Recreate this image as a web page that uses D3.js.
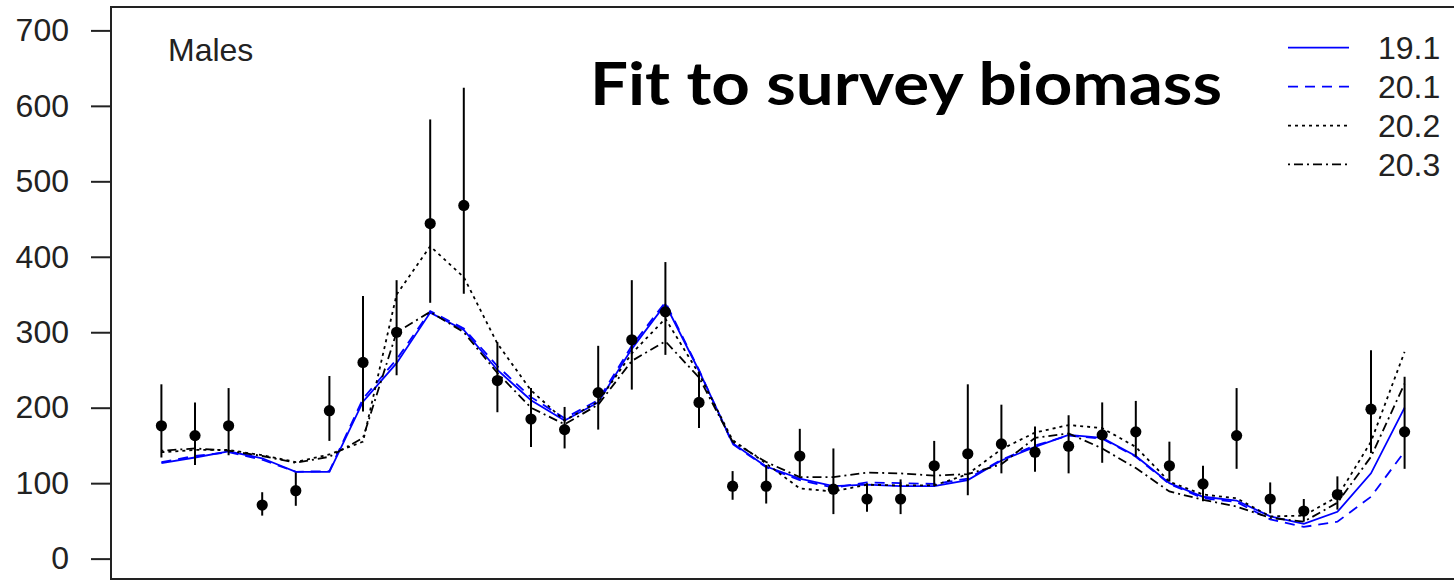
<!DOCTYPE html>
<html>
<head>
<meta charset="utf-8">
<script src="https://cdn.jsdelivr.net/npm/d3@7"></script>
<style>
  html, body { margin: 0; padding: 0; background: #fff; }
  svg { display: block; }
</style>
</head>
<body>
<div id="chart"></div>
<script>
// ---------------- data ----------------
const years = d3.range(1982, 2020);
const obs   = [176,163,176,71,90,196,260,300,444,468,236,185,171,220,290,327,207,96,96,136,92,79,79,123,139,152,141,149,164,168,123,99,163,79,63,85,198,168];
const obsUpper = [231,207,226,88,114,242,348,369,582,624,287,226,201,282,369,393,248,116,124,172,146,100,105,156,231,204,175,190,207,209,155,123,226,101,79,109,276,241];
const obsLower = [134,124,137,57,70,156,195,243,339,351,194,148,146,171,224,270,173,78,73,109,59,62,59,96,84,113,115,113,127,135,102,76,119,60,49,65,140,119];

const m191 = [126.5,134,142,133,115,115,208,259,326,303,250,210,183,207,278,337,249,153,122,106,96,98,96,96,104,130,148,164,160,136,100,82,77,56,46,62,113,200];
const m201 = [128,136,141,131,115,116,212,264,328,305,255,214,186,210,282,340,250,152,121,104,94,101,100,99,106,131,150,163,159,135,99,80,75,52,42,49,82,142];
const m202 = [141,144,144,137,128,138,155,350,414,373,285,223,183,208,272,318,245,157,126,93,89,98,97,97,112,145,167,177,173,148,102,85,80,56,57,82,155,274];
const m203 = [143,146,143,136,127,135,160,300,327,300,246,200,178,204,262,288,240,155,128,108,108,114,113,110,112,125,160,166,146,120,89,78,69,54,49,74,135,232];

const seriesNames = ["19.1","20.1","20.2","20.3"];
const seriesData  = [m191, m201, m202, m203];
const seriesColor = ["#0000ff","#0000ff","#000000","#000000"];
const seriesDash  = [null, "10,7", "3,4", "2,4,9,4"];

const yTicks = [0,100,200,300,400,500,600,700];
const panelLabel = "Males";
const titleText = "Fit to survey biomass";

// ---------------- layout ----------------
const W = 1454, H = 580;
const svg = d3.select("#chart").append("svg")
  .attr("width", W).attr("height", H)
  .style("font-family", "'Liberation Sans', Arial, sans-serif");

svg.append("rect").attr("width", W).attr("height", H).attr("fill", "#fff");

const x = d3.scaleLinear().domain([1980.5, 2020.5]).range([111, 1455]);
const y = d3.scaleLinear().domain([-27, 731]).range([579, 7]);

// plot box
svg.append("rect")
  .attr("x", x(1980.5)).attr("y", y(731))
  .attr("width", x(2020.5) - x(1980.5)).attr("height", y(-27) - y(731))
  .attr("fill", "none").attr("stroke", "#222").attr("stroke-width", 2);

// y axis
const yAxis = d3.axisLeft(y).tickValues(yTicks).tickSize(20).tickPadding(22).tickFormat(d3.format("d"));
const gy = svg.append("g").attr("transform", `translate(${x(1980.5)},0)`).call(yAxis);
gy.select(".domain").remove();
gy.selectAll(".tick line").attr("stroke", "#222").attr("stroke-width", 2);
gy.selectAll(".tick text")
  .attr("fill", "#222")
  .style("font-size", "32px")
  .style("font-family", "'Liberation Sans', Arial, sans-serif");

// model lines
const line = d3.line().x((d, i) => x(years[i])).y(d => y(d));
seriesData.forEach((s, k) => {
  svg.append("path")
    .datum(s)
    .attr("d", line)
    .attr("fill", "none")
    .attr("stroke", seriesColor[k])
    .attr("stroke-width", 1.8)
    .attr("stroke-dasharray", seriesDash[k]);
});

// error bars
svg.append("g").selectAll("line").data(years).join("line")
  .attr("x1", d => x(d)).attr("x2", d => x(d))
  .attr("y1", (d, i) => y(obsLower[i])).attr("y2", (d, i) => y(obsUpper[i]))
  .attr("stroke", "#000").attr("stroke-width", 2);

// points
svg.append("g").selectAll("circle").data(years).join("circle")
  .attr("cx", d => x(d)).attr("cy", (d, i) => y(obs[i]))
  .attr("r", 5.6).attr("fill", "#000");

// panel label
svg.append("text").attr("x", 168).attr("y", 61)
  .text(panelLabel).attr("fill", "#222").style("font-size", "32px");

// title
svg.append("text").attr("x", 590).attr("y", 105)
  .text(titleText)
  .attr("fill", "#000")
  .attr("textLength", 632).attr("lengthAdjust", "spacingAndGlyphs")
  .style("font-family", "Lato, 'Open Sans', sans-serif")
  .style("font-weight", "700")
  .style("font-size", "60px");

// legend
const legY = [47.7, 86.7, 125.7, 164.4];
const leg = svg.append("g");
seriesNames.forEach((n, k) => {
  leg.append("line")
    .attr("x1", 1288).attr("x2", 1349)
    .attr("y1", legY[k]).attr("y2", legY[k])
    .attr("stroke", seriesColor[k]).attr("stroke-width", 1.8)
    .attr("stroke-dasharray", seriesDash[k]);
  leg.append("text")
    .attr("x", 1378).attr("y", legY[k]).attr("dy", "0.35em")
    .text(n).attr("fill", "#222").style("font-size", "32px");
});
</script>
</body>
</html>
